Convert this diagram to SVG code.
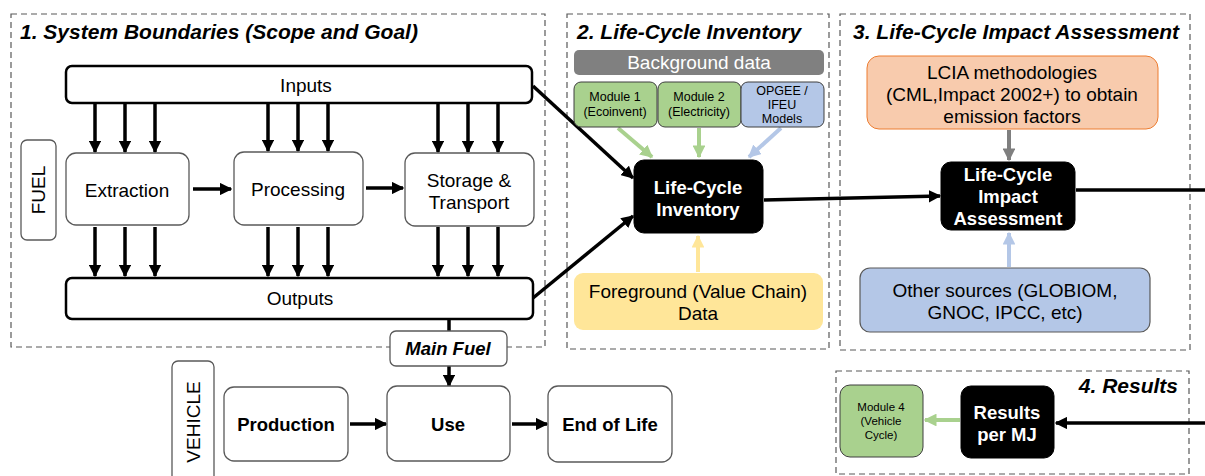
<svg xmlns="http://www.w3.org/2000/svg" width="1205" height="476" viewBox="0 0 1205 476">
<defs>
<marker id="ab" viewBox="0 0 10 10" refX="9" refY="5" markerWidth="3.6" markerHeight="3.6" orient="auto" markerUnits="strokeWidth"><path d="M0,0 L10,5 L0,10 z" fill="#000"/></marker>
<marker id="ag" viewBox="0 0 10 10" refX="9" refY="5" markerWidth="3.2" markerHeight="3.2" orient="auto" markerUnits="strokeWidth"><path d="M0,0 L10,5 L0,10 z" fill="#a9d18e"/></marker>
<marker id="abl" viewBox="0 0 10 10" refX="9" refY="5" markerWidth="3.2" markerHeight="3.2" orient="auto" markerUnits="strokeWidth"><path d="M0,0 L10,5 L0,10 z" fill="#b4c7e7"/></marker>
<marker id="ay" viewBox="0 0 10 10" refX="9" refY="5" markerWidth="3.2" markerHeight="3.2" orient="auto" markerUnits="strokeWidth"><path d="M0,0 L10,5 L0,10 z" fill="#ffe699"/></marker>
<marker id="agr" viewBox="0 0 10 10" refX="9" refY="5" markerWidth="3.2" markerHeight="3.2" orient="auto" markerUnits="strokeWidth"><path d="M0,0 L10,5 L0,10 z" fill="#7f7f7f"/></marker>
</defs>
<style>
text{font-family:"Liberation Sans",Arial,sans-serif;fill:#000}
.sec{fill:none;stroke:#595959;stroke-width:1.2;stroke-dasharray:6,4}
.title{font-size:21px;font-weight:bold;font-style:italic}
.bar{fill:#fff;stroke:#000;stroke-width:2.5}
.proc{fill:#fff;stroke:#595959;stroke-width:1.3}
.t16{font-size:19px;text-anchor:middle}
.b16{font-size:18.5px;font-weight:bold;text-anchor:middle}
.w16{font-size:18.5px;font-weight:bold;text-anchor:middle;fill:#fff}
.t11{font-size:12.5px;text-anchor:middle}
.blk{fill:#000;stroke:#000}
.grn{fill:#a9d18e;stroke:#3f3f3f;stroke-width:1}
.blu{fill:#b4c7e7;stroke:#3f3f3f;stroke-width:1}
.arr{stroke:#000;stroke-width:3.5;fill:none;marker-end:url(#ab)}
.line{stroke:#000;stroke-width:3.5;fill:none}
</style>

<g id="section1">
<rect class="sec" x="11" y="14" width="534" height="333"/>
<text class="title" x="20" y="39">1. System Boundaries (Scope and Goal)</text>
</g>
<g id="section2">
<rect class="sec" x="567" y="14" width="262" height="335"/>
<text class="title" x="577" y="39">2. Life-Cycle Inventory</text>
</g>
<g id="section3">
<rect class="sec" x="840" y="14" width="350" height="336"/>
<text class="title" x="853" y="39">3. Life-Cycle Impact Assessment</text>
</g>
<g id="section4">
<rect class="sec" x="836" y="371" width="353" height="103"/>
<text class="title" x="1178" y="393" text-anchor="end">4. Results</text>
</g>

<g id="connectors">
<path class="arr" d="M95,104 V152"/><path class="arr" d="M125,104 V152"/><path class="arr" d="M155,104 V152"/>
<path class="arr" d="M268,104 V151"/><path class="arr" d="M298,104 V151"/><path class="arr" d="M328,104 V151"/>
<path class="arr" d="M438,104 V152"/><path class="arr" d="M468,104 V152"/><path class="arr" d="M498,104 V152"/>
<path class="arr" d="M95,227 V276"/><path class="arr" d="M125,227 V276"/><path class="arr" d="M155,227 V276"/>
<path class="arr" d="M268,227 V276"/><path class="arr" d="M298,227 V276"/><path class="arr" d="M328,227 V276"/>
<path class="arr" d="M438,227 V276"/><path class="arr" d="M468,227 V276"/><path class="arr" d="M498,227 V276"/>
<path class="arr" d="M193,189 H231"/><path class="arr" d="M366,188 H403"/>
<path class="line" d="M449,320 V332"/>
<path class="arr" d="M449,366 V386"/>
<path class="arr" d="M350,424 H386"/><path class="arr" d="M512,424 H547"/>
<path class="arr" d="M533,86 L633,178"/>
<path class="arr" d="M533,298 L633,216"/>
<path class="arr" d="M764,200 L940,196"/>
<path class="line" d="M1076,190 H1205"/>
<path class="arr" d="M1205,423 H1056"/>
<path d="M618,128 L652,157" stroke="#a9d18e" stroke-width="4" fill="none" marker-end="url(#ag)"/>
<path d="M699,128 V157" stroke="#a9d18e" stroke-width="4" fill="none" marker-end="url(#ag)"/>
<path d="M781,128 L749,157" stroke="#b4c7e7" stroke-width="4" fill="none" marker-end="url(#abl)"/>
<path d="M698,272 V236" stroke="#ffe699" stroke-width="4" fill="none" marker-end="url(#ay)"/>
<path d="M1009,130 V160" stroke="#7f7f7f" stroke-width="4" fill="none" marker-end="url(#agr)"/>
<path d="M1009,267 V233" stroke="#b4c7e7" stroke-width="4" fill="none" marker-end="url(#abl)"/>
<path d="M960,420 H925" stroke="#a9d18e" stroke-width="4" fill="none" marker-end="url(#ag)"/>
</g>

<g id="inputs"><rect class="bar" x="66" y="66" width="466" height="37" rx="6"/><text class="t16" x="306" y="92">Inputs</text></g>
<g id="fuel"><rect class="proc" x="21" y="140" width="35" height="100" rx="6"/><text class="t16" transform="translate(45,190) rotate(-90)">FUEL</text></g>
<g id="extraction"><rect class="proc" x="66" y="153" width="123" height="72" rx="10"/><text class="t16" x="127" y="197">Extraction</text></g>
<g id="processing"><rect class="proc" x="234" y="152" width="129" height="73" rx="10"/><text class="t16" x="298" y="196">Processing</text></g>
<g id="storage"><rect class="proc" x="405" y="153" width="129" height="73" rx="10"/><text class="t16" x="469" y="187">Storage &amp;</text><text class="t16" x="469" y="209">Transport</text></g>
<g id="outputs"><rect class="bar" x="66" y="278" width="467" height="41" rx="6"/><text class="t16" x="300" y="305">Outputs</text></g>
<g id="mainfuel"><rect class="proc" x="390" y="331" width="117" height="35" rx="6"/><text class="b16" x="448" y="355" font-style="italic">Main Fuel</text></g>
<g id="vehicle"><rect class="proc" x="172" y="361" width="42" height="125" rx="6"/><text class="t16" transform="translate(200,422) rotate(-90)">VEHICLE</text></g>
<g id="production"><rect class="proc" x="224" y="387" width="124" height="74" rx="10"/><text class="b16" x="286" y="431">Production</text></g>
<g id="use"><rect class="proc" x="387" y="386" width="123" height="75" rx="10"/><text class="b16" x="448" y="431">Use</text></g>
<g id="endoflife"><rect class="proc" x="548" y="386" width="124" height="76" rx="10"/><text class="b16" x="610" y="431">End of Life</text></g>

<g id="background"><rect x="574" y="50" width="250" height="25" rx="5" fill="#808080"/><text class="t16" x="699" y="69" style="fill:#fff">Background data</text></g>
<g id="module1"><rect class="grn" x="574" y="82" width="83" height="45" rx="7"/><text class="t11" x="615" y="101">Module 1</text><text class="t11" x="615" y="116">(Ecoinvent)</text></g>
<g id="module2"><rect class="grn" x="658" y="82" width="83" height="45" rx="7"/><text class="t11" x="699" y="101">Module 2</text><text class="t11" x="699" y="116">(Electricity)</text></g>
<g id="opgee"><rect class="blu" x="741" y="82" width="83" height="45" rx="7"/><text class="t11" x="782" y="95">OPGEE /</text><text class="t11" x="782" y="109">IFEU</text><text class="t11" x="782" y="123">Models</text></g>
<g id="lci"><rect class="blk" x="634" y="160" width="129" height="73" rx="10"/><text class="w16" x="698" y="194">Life-Cycle</text><text class="w16" x="698" y="216">Inventory</text></g>
<g id="foreground"><rect x="574" y="273" width="249" height="57" rx="9" fill="#ffe699"/><text class="t16" x="698" y="298">Foreground (Value Chain)</text><text class="t16" x="698" y="320">Data</text></g>

<g id="lcia-methods"><rect x="867" y="56" width="291" height="73" rx="12" fill="#f8cbad" stroke="#ed7d31" stroke-width="1"/><text class="t16" x="1012" y="79">LCIA methodologies</text><text class="t16" x="1012" y="101">(CML,Impact 2002+) to obtain</text><text class="t16" x="1012" y="123">emission factors</text></g>
<g id="lcia"><rect class="blk" x="941" y="162" width="134" height="68" rx="10"/><text class="w16" x="1008" y="181">Life-Cycle</text><text class="w16" x="1008" y="203">Impact</text><text class="w16" x="1008" y="225">Assessment</text></g>
<g id="other"><rect x="860" y="268" width="290" height="64" rx="10" fill="#b4c7e7" stroke="#595959" stroke-width="1.2"/><text class="t16" x="1005" y="297">Other sources (GLOBIOM,</text><text class="t16" x="1005" y="319">GNOC, IPCC, etc)</text></g>

<g id="module4"><rect class="grn" x="840" y="385" width="83" height="72" rx="10"/><text class="t11" x="881" y="411" style="font-size:11.5px">Module 4</text><text class="t11" x="881" y="425" style="font-size:11.5px">(Vehicle</text><text class="t11" x="881" y="439" style="font-size:11.5px">Cycle)</text></g>
<g id="results"><rect class="blk" x="961" y="386" width="93" height="72" rx="10"/><text class="w16" x="1007" y="419">Results</text><text class="w16" x="1007" y="441">per MJ</text></g>
</svg>
